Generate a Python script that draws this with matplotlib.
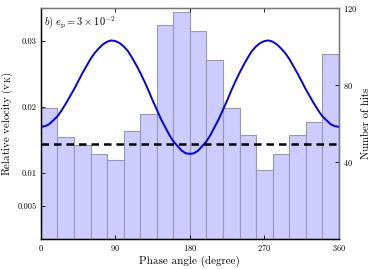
import numpy as np
import matplotlib
matplotlib.use("Agg")
import matplotlib.pyplot as plt

plt.rcParams["font.family"] = "serif"
plt.rcParams["font.serif"] = ["cmr10"]
plt.rcParams["mathtext.fontset"] = "cm"
plt.rcParams["axes.formatter.use_mathtext"] = True

# Histogram of hits per 20 degree phase bin
bin_edges = np.arange(0, 361, 20)
hits = [68, 53, 49, 44, 41, 56, 65, 111, 118, 108, 93, 68, 54, 36, 44, 54, 61, 96]

# Relative velocity curve (every 5 degrees)
phase = np.arange(0, 361, 5)
velocity = [0.0170, 0.0171, 0.0174, 0.0180, 0.0186, 0.0195, 0.0205, 0.0216, 0.0227,
            0.0239, 0.0251, 0.0262, 0.0273, 0.0282, 0.0289, 0.0295, 0.0299, 0.0301,
            0.0300, 0.0297, 0.0292, 0.0285, 0.0275, 0.0264, 0.0252, 0.0239, 0.0225,
            0.0210, 0.0196, 0.0182, 0.0170, 0.0158, 0.0148, 0.0141, 0.0134, 0.0130,
            0.0129,
            0.0130, 0.0134, 0.0141, 0.0148, 0.0158, 0.0170, 0.0182, 0.0196, 0.0210,
            0.0225, 0.0239, 0.0252, 0.0264, 0.0275, 0.0285, 0.0292, 0.0297, 0.0300,
            0.0301, 0.0299, 0.0295, 0.0289, 0.0282, 0.0273, 0.0262, 0.0251, 0.0239,
            0.0227, 0.0216, 0.0205, 0.0195, 0.0186, 0.0180, 0.0174, 0.0171, 0.0170]
mean_velocity = 0.01435

fig = plt.figure(figsize=(3.72, 2.69), dpi=100)
ax = fig.add_axes([0.110, 0.1115, 0.801, 0.8585])
ax2 = ax.twinx()

# bars in the back on the right axis
ax2.bar(bin_edges[:-1], hits, width=20, align="edge", color="#ccccff",
        edgecolor="#9898b4", linewidth=0.8)
ax2.set_ylim(0, 120)
ax2.set_yticks([40, 80, 120])
ax2.set_ylabel("Number of hits", fontsize=7.8, labelpad=3)

ax.set_zorder(ax2.get_zorder() + 1)
ax.patch.set_visible(False)

ax.plot(phase, velocity, color="#0000ee", lw=1.4)
ax.axhline(mean_velocity, color="black", lw=1.8, ls=(0, (3, 2)))

ax.set_xlim(0, 360)
ax.set_ylim(0, 0.035)
ax.set_xticks([0, 90, 180, 270, 360])
ax.set_yticks([0.005, 0.01, 0.02, 0.03])
ax.set_yticklabels(["0.005", "0.01", "0.02", "0.03"])
ax.set_xlabel("Phase angle (degree)", fontsize=8, labelpad=2)
ax.set_ylabel(r"Relative velocity ($\mathrm{v_K}$)", fontsize=7.8, labelpad=2)
ax.text(0.01, 0.975, r"$b)\ e_\mathrm{p} = 3\times10^{-2}$", transform=ax.transAxes,
        ha="left", va="top", fontsize=7.5)

for a in (ax, ax2):
    a.tick_params(direction="in", length=3, width=0.6, labelsize=6, pad=3)
ax.tick_params(top=True)
for s in ax.spines.values():
    s.set_linewidth(1.0)
for s in ("right", "top"):
    ax.spines[s].set_color("#777777")

fig.savefig("out.png", dpi=100)
